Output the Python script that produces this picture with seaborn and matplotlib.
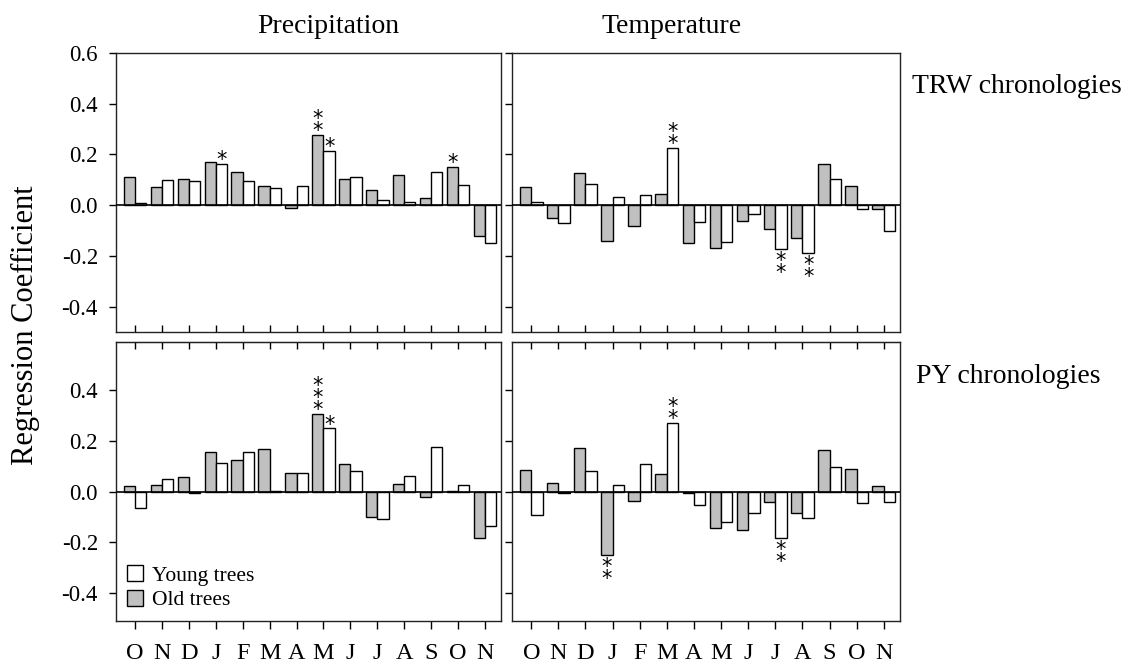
import pandas as pd
import matplotlib
matplotlib.use("Agg")
import matplotlib.pyplot as plt
from matplotlib.patches import Patch
import seaborn as sns

months = ["O", "N", "D", "J", "F", "M", "A", "M", "J", "J", "A", "S", "O", "N"]

# TRW chronologies
trw_prec_old = [0.112, 0.073, 0.104, 0.171, 0.130, 0.077, -0.010, 0.277, 0.105, 0.060, 0.119, 0.029, 0.151, -0.121]
trw_prec_young = [0.007, 0.100, 0.096, 0.164, 0.096, 0.066, 0.076, 0.214, 0.112, 0.021, 0.014, 0.131, 0.079, -0.148]
trw_temp_old = [0.072, -0.050, 0.128, -0.143, -0.082, 0.045, -0.150, -0.167, -0.064, -0.092, -0.128, 0.164, 0.074, -0.017]
trw_temp_young = [0.013, -0.072, 0.082, 0.034, 0.042, 0.224, -0.066, -0.146, -0.033, -0.171, -0.187, 0.104, -0.014, -0.101]

# PY chronologies
py_prec_old = [0.022, 0.026, 0.057, 0.156, 0.123, 0.169, 0.073, 0.308, 0.108, -0.100, 0.032, -0.023, 0.003, -0.182]
py_prec_young = [-0.064, 0.049, -0.006, 0.113, 0.156, 0.001, 0.073, 0.249, 0.082, -0.109, 0.061, 0.177, 0.026, -0.136]
py_temp_old = [0.086, 0.034, 0.174, -0.249, -0.038, 0.070, -0.005, -0.143, -0.150, -0.041, -0.086, 0.164, 0.091, 0.021]
py_temp_young = [-0.091, -0.004, 0.083, 0.028, 0.108, 0.270, -0.054, -0.118, -0.083, -0.183, -0.105, 0.099, -0.046, -0.041]

# number of significance stars per bar
trw_prec_old_sig = [0, 0, 0, 0, 0, 0, 0, 2, 0, 0, 0, 0, 1, 0]
trw_prec_young_sig = [0, 0, 0, 1, 0, 0, 0, 1, 0, 0, 0, 0, 0, 0]
trw_temp_old_sig = [0] * 14
trw_temp_young_sig = [0, 0, 0, 0, 0, 2, 0, 0, 0, 2, 2, 0, 0, 0]
py_prec_old_sig = [0, 0, 0, 0, 0, 0, 0, 3, 0, 0, 0, 0, 0, 0]
py_prec_young_sig = [0, 0, 0, 0, 0, 0, 0, 1, 0, 0, 0, 0, 0, 0]
py_temp_old_sig = [0, 0, 0, 2, 0, 0, 0, 0, 0, 0, 0, 0, 0, 0]
py_temp_young_sig = [0, 0, 0, 0, 0, 2, 0, 0, 0, 2, 0, 0, 0, 0]

sns.set_style("ticks")
plt.rcParams["font.family"] = ["Liberation Serif", "DejaVu Serif"]
for key in ["text.color", "axes.labelcolor", "xtick.color", "ytick.color", "axes.edgecolor"]:
    plt.rcParams[key] = "black"

month_keys = [f"{m}{i}" for i, m in enumerate(months)]
colors = {"Old trees": "#c0c0c0", "Young trees": "white"}

fig = plt.figure(figsize=(11.34, 6.69), dpi=100)
W, H = 1134, 669


def add_axes(left, top, right, bottom):
    return fig.add_axes([left / W, 1 - bottom / H, (right - left) / W, (bottom - top) / H])


panels = [
    (add_axes(116, 53, 501, 332), trw_prec_old, trw_prec_young, trw_prec_old_sig, trw_prec_young_sig, "top", True),
    (add_axes(512, 53, 900, 332), trw_temp_old, trw_temp_young, trw_temp_old_sig, trw_temp_young_sig, "top", False),
    (add_axes(116, 342, 501, 621), py_prec_old, py_prec_young, py_prec_old_sig, py_prec_young_sig, "bottom", True),
    (add_axes(512, 342, 900, 621), py_temp_old, py_temp_young, py_temp_old_sig, py_temp_young_sig, "bottom", False),
]

for ax, old, young, old_sig, young_sig, row, left in panels:
    df = pd.DataFrame({
        "month": month_keys * 2,
        "value": old + young,
        "group": ["Old trees"] * 14 + ["Young trees"] * 14,
    })
    sns.barplot(data=df, x="month", y="value", hue="group", order=month_keys,
                hue_order=["Old trees", "Young trees"], palette=colors,
                edgecolor="black", linewidth=1, width=0.84, errorbar=None,
                legend=False, ax=ax)
    ax.axhline(0, color="black", lw=1.2, zorder=3)
    ax.set_xlim(-0.71, 13.6)
    if row == "top":
        ax.set_ylim(-0.5, 0.6)
        ax.set_yticks([0.6, 0.4, 0.2, 0.0, -0.2, -0.4])
    else:
        ax.set_ylim(-0.51, 0.59)
        ax.set_yticks([0.4, 0.2, 0.0, -0.2, -0.4])
    ax.set_xlabel("")
    ax.set_ylabel("")
    for s in ax.spines.values():
        s.set_visible(True)
        s.set_linewidth(1)
        s.set_color("#222222")
    ax.tick_params(axis="y", direction="out", length=5, width=1, labelsize=16.5, pad=8,
                   labelleft=left)
    if left:
        ax.set_yticklabels([f"{t:.1f}" for t in ax.get_yticks()])
    if row == "top":
        ax.tick_params(axis="x", direction="in", length=5, width=1, labelbottom=False)
    else:
        ax.tick_params(axis="x", direction="out", length=6, width=1,
                       labelsize=17.5, pad=10)
        ax.set_xticks(range(14))
        ax.set_xticklabels(months)
        # inward ticks along the top edge
        sec = ax.secondary_xaxis("top")
        sec.set_xticks(range(14))
        sec.tick_params(direction="in", length=5, width=1, labeltop=False)

    # significance stars, stacked in one text per bar
    for offs, vals, sig in [(-0.21, old, old_sig), (0.21, young, young_sig)]:
        for i, (v, n) in enumerate(zip(vals, sig)):
            if n == 0:
                continue
            stars = "\n".join(["*"] * n)
            if v >= 0:
                ax.annotate(stars, xy=(i + offs, v), xytext=(0, -1.5),
                            textcoords="offset points", ha="center", va="baseline",
                            fontsize=15, linespacing=0.5, family="DejaVu Sans")
            else:
                ax.annotate(stars, xy=(i + offs, v), xytext=(0, -1.5),
                            textcoords="offset points", ha="center", va="top",
                            fontsize=15, linespacing=0.5, family="DejaVu Sans")

# legend in lower-left panel
leg_ax = panels[2][0]
handles = [Patch(facecolor="white", edgecolor="black", label="Young trees"),
           Patch(facecolor="#c0c0c0", edgecolor="black", label="Old trees")]
leg_ax.legend(handles=handles, loc="lower left", frameon=False, fontsize=15.5,
              handlelength=0.75, handleheight=0.75, handletextpad=0.4,
              labelspacing=0.2, borderaxespad=0.3, borderpad=0.2)

fig.text(328 / W, 1 - 33 / H, "Precipitation", ha="center", va="baseline", fontsize=20)
fig.text(672 / W, 1 - 33 / H, "Temperature", ha="center", va="baseline", fontsize=20)
fig.text(912 / W, 1 - 93 / H, "TRW chronologies", ha="left", va="baseline", fontsize=20)
fig.text(916 / W, 1 - 383 / H, "PY chronologies", ha="left", va="baseline", fontsize=20)
fig.text(25 / W, 1 - 325 / H, "Regression Coefficient", rotation=90,
         ha="center", va="center", fontsize=22)

fig.savefig("out.png", dpi=100)
